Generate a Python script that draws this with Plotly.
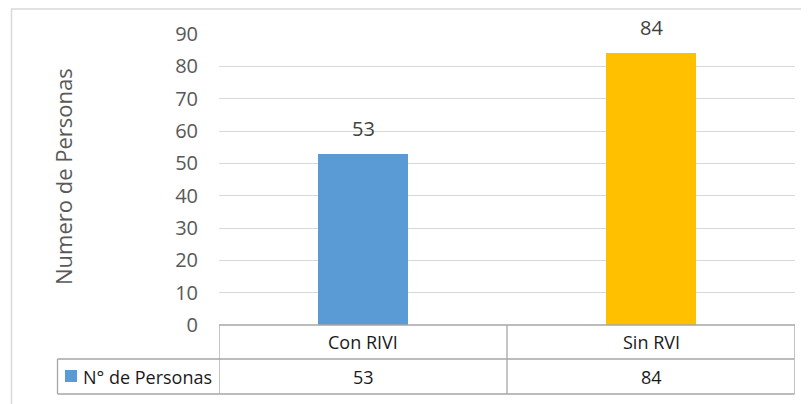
import plotly.graph_objects as go

categories = ["Con RIVI", "Sin RVI"]
values = [53, 84]
series_name = "N° de Personas"
y_title = "Numero de Personas"
y_ticks = [0, 10, 20, 30, 40, 50, 60, 70, 80, 90]
bar_colors = ["#5B9BD5", "#FFC000"]

# the page body adds an 8px margin; work in page pixels and shift
OFF = 8
W, H = 809 - OFF, 404 - OFF
L = 219 - OFF
T = 34 - OFF
R = W - (795 - OFF)
B = H - (325 - OFF)
pw = W - L - R
ph = H - T - B


def px_x(p):
    return (p - OFF - L) / pw


def px_y(p):
    return (H - B - (p - OFF)) / ph


FONT = "Open Sans"
line_col = "#a6a6a6"

fig = go.Figure()
fig.add_trace(go.Bar(
    x=categories, y=values, width=0.3125,
    marker=dict(color=bar_colors, line=dict(width=0)),
    name=series_name, showlegend=False, hoverinfo="skip",
))

annotations = []
# data labels
for c, v in zip(categories, values):
    annotations.append(dict(x=c, y=v, xref="x", yref="y", text=str(v), showarrow=False,
                            yanchor="bottom", yshift=10,
                            font=dict(family=FONT, size=20, color="#404040")))
# table cells
for c, v in zip(categories, values):
    annotations.append(dict(x=c, y=px_y(342), xref="x", yref="paper", text=c, showarrow=False,
                            yanchor="middle", font=dict(family=FONT, size=18, color="#1a1a1a")))
    annotations.append(dict(x=c, y=px_y(376.5), xref="x", yref="paper", text=str(v), showarrow=False,
                            yanchor="middle", font=dict(family=FONT, size=18, color="#1a1a1a")))
annotations.append(dict(x=px_x(81), y=px_y(376.5), xref="paper", yref="paper", text=series_name,
                        showarrow=False, xanchor="left", yanchor="middle",
                        font=dict(family=FONT, size=18, color="#1a1a1a")))
# y axis title
annotations.append(dict(x=px_x(63), y=px_y(177), xref="paper", yref="paper", text=y_title,
                        showarrow=False, textangle=-90, xanchor="center", yanchor="middle",
                        font=dict(family=FONT, size=22, color="#595959")))

shapes = []
# outer border (top edge kept inside the drawable area)
shapes.append(dict(type="rect", xref="paper", yref="paper", x0=px_x(11.5), x1=px_x(830),
                   y0=px_y(430), y1=px_y(9), line=dict(color="#d9d9d9", width=1.5), layer="below"))
# table lines
ln = dict(color=line_col, width=1.3)
shapes.append(dict(type="line", xref="x", yref="paper", x0=-0.5, x1=1.5, y0=px_y(325), y1=px_y(325), line=ln))
shapes.append(dict(type="line", xref="paper", yref="paper", x0=px_x(57.5), x1=px_x(794.5), y0=px_y(359), y1=px_y(359), line=ln))
shapes.append(dict(type="line", xref="paper", yref="paper", x0=px_x(57.5), x1=px_x(794.5), y0=px_y(394), y1=px_y(394), line=ln))
shapes.append(dict(type="line", xref="paper", yref="paper", x0=px_x(57.5), x1=px_x(57.5), y0=px_y(359), y1=px_y(394), line=ln))
for xb in [-0.5, 0.5, 1.5]:
    shapes.append(dict(type="line", xref="x", yref="paper", x0=xb, x1=xb, y0=px_y(325), y1=px_y(394), line=ln))
# legend key square
shapes.append(dict(type="rect", xref="paper", yref="paper", x0=px_x(65), x1=px_x(77),
                   y0=px_y(382), y1=px_y(370), fillcolor=bar_colors[0], line=dict(width=0)))

fig.update_layout(
    width=W, height=H,
    margin=dict(l=L, r=R, t=T, b=B, pad=0),
    paper_bgcolor="white", plot_bgcolor="white",
    showlegend=False, bargap=0,
    font=dict(family=FONT),
    xaxis=dict(type="category", range=[-0.5, 1.5], showticklabels=False, showgrid=False,
               zeroline=False, showline=False, ticks="", fixedrange=True),
    yaxis=dict(range=[0, 90], tickvals=y_ticks, showgrid=True, gridcolor="#d9d9d9", gridwidth=1.3,
               zeroline=False, showline=False, ticks="", ticklabelstandoff=20,
               tickfont=dict(family=FONT, size=20, color="#595959")),
    annotations=annotations, shapes=shapes,
)

fig.write_html("out.html")
